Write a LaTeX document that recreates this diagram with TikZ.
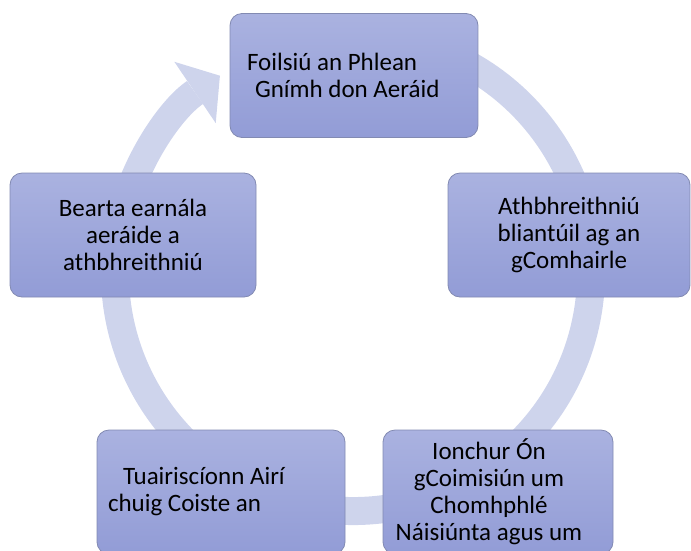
\documentclass[tikz,border=0pt]{standalone}
\usepackage{fontspec}
\setmainfont{Carlito}
\usetikzlibrary{arrows.meta}
\definecolor{ringblue}{RGB}{206,212,236}
\definecolor{boxtop}{RGB}{170,178,224}
\definecolor{boxbot}{RGB}{146,156,214}
\definecolor{boxline}{RGB}{130,138,178}
\begin{document}
\begin{tikzpicture}[x=1pt, y=-1pt,
  stage/.style={draw=boxline, line width=0.8pt, rounded corners=12pt, top color=boxtop, bottom color=boxbot, minimum height=124pt, inner ysep=0pt, font=\fontsize{25}{27}\selectfont, execute at begin node={\spaceskip=0pt\relax\xspaceskip=0pt\relax}},
  ring/.style={draw=ringblue, line width=28pt, -{Triangle[length=30pt, width=74pt, line width=0pt, color=ringblue]}}]
\path[use as bounding box] (0,0) rectangle (691,550);
\clip (0,0) rectangle (691,550);
\coordinate (hub) at (353,273);
\draw[ring] (hub) ++(-75:238) arc[start angle=-75, end angle=236, radius=238];
\node[stage, align=flush left, text width=214pt, inner xsep=17pt] (plan) at (354,75.5) {Foilsiú an Phlean\\\hspace*{8pt}Gnímh don Aeráid};
\node[stage, align=flush center, text width=230pt, inner xsep=6pt] (review) at (569,235) {Athbhreithniú\\bliantúil ag an\\gComhairle};
\node[stage, align=flush center, text width=234pt, inner xsep=6pt] (sector) at (133,235) {Bearta earnála\\aeráide a\\athbhreithniú};
\node[stage, align=flush left, text width=226pt, inner xsep=11pt] (report) at (221,492) {\hspace*{15pt}Tuairiscíonn Airí\\chuig Coiste an};
\node[stage, align=flush center, text width=218pt, inner xsep=6pt] (input) at (498,492) {\hspace*{-18pt}Ionchur Ón\\\hspace*{-18pt}gCoimisiún um\\\hspace*{-18pt}Chomhphlé\\\hspace*{-18pt}Náisiúnta agus um};
\end{tikzpicture}
\end{document}
